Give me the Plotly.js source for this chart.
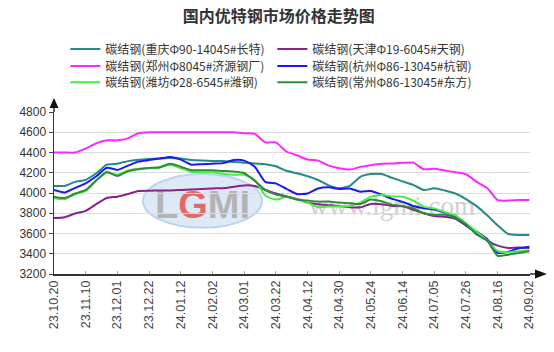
<!DOCTYPE html>
<html>
<head>
<meta charset="utf-8">
<script src="https://cdn.plot.ly/plotly-3.0.1.min.js"></script>
<style>html,body{margin:0;padding:0;background:#fff;}#chart{width:554px;height:352px;}</style>
</head>
<body>
<div id="chart"></div>
<script>
// Trading-day index of each sampled point (every 5 trading days)
const dayIndex = [0,5,10,15,20,25,30,35,40,45,50,55,60,65,70,75,80,85,90,95,100,105,110,115,120,125,130,135,140,145,150,155,160,165,170,175,180,185,190,195,200,205,210,215,220,225];

// Tick labels (every 15 trading days)
const tickIndex = [0,15,30,45,60,75,90,105,120,135,150,165,180,195,210,225];
const tickLabels = ["23.10.20","23.11.10","23.12.01","23.12.22","24.01.12","24.02.02","24.03.01","24.03.22","24.04.12","24.04.30","24.05.24","24.06.14","24.07.05","24.07.26","24.08.16","24.09.02"];

const seriesNames = [
  "碳结钢(重庆Φ90-14045#长特)",
  "碳结钢(天津Φ19-6045#天钢)",
  "碳结钢(郑州Φ8045#济源钢厂)",
  "碳结钢(杭州Φ86-13045#杭钢)",
  "碳结钢(潍坊Φ28-6545#潍钢)",
  "碳结钢(常州Φ86-13045#东方)"
];

const chongqing = [4070,4070,4110,4130,4195,4280,4290,4315,4328,4335,4340,4345,4340,4325,4320,4317,4315,4307,4300,4291,4285,4265,4220,4195,4165,4128,4075,4046,4070,4160,4187,4187,4150,4115,4080,4030,4046,4025,3995,3940,3870,3780,3680,3595,3585,3585];
const tianjin   = [3752,3760,3798,3823,3890,3950,3964,3990,4020,4023,4025,4025,4030,4035,4040,4045,4048,4062,4075,4070,4030,3995,3966,3940,3905,3888,3880,3872,3860,3859,3892,3889,3872,3868,3835,3800,3772,3766,3745,3680,3604,3530,3480,3457,3462,3457];
const zhengzhou = [4400,4400,4400,4440,4490,4520,4520,4540,4590,4600,4600,4600,4600,4600,4600,4600,4600,4600,4590,4585,4500,4500,4410,4373,4330,4320,4270,4245,4232,4258,4275,4288,4292,4298,4300,4235,4240,4222,4205,4185,4110,4050,3930,3925,3930,3930];
const hangzhou  = [4030,4005,4050,4095,4165,4250,4228,4270,4310,4325,4340,4356,4330,4280,4285,4290,4295,4325,4320,4260,4110,4095,4040,3990,3995,4045,4056,4040,4045,4013,4020,3985,3942,3912,3872,3850,3838,3805,3765,3680,3620,3545,3410,3420,3455,3470];
const weifang   = [3948,3938,3988,4020,4120,4210,4180,4222,4240,4245,4250,4280,4245,4210,4205,4205,4190,4180,4180,4130,3975,3935,3962,3935,3905,3860,3866,3868,3872,3905,3964,3980,3966,3964,3925,3866,3848,3810,3780,3700,3620,3530,3427,3414,3424,3434];
const changzhou = [3964,3950,3995,4030,4125,4205,4168,4215,4235,4248,4255,4288,4260,4225,4225,4225,4218,4212,4198,4120,4030,3985,3966,3935,3925,3915,3915,3905,3899,3892,3935,3918,3885,3872,3850,3800,3784,3784,3755,3690,3590,3530,3380,3391,3408,3424];

const seriesValues = [chongqing, tianjin, zhengzhou, hangzhou, weifang, changzhou];
const seriesColors = ["#248a8a","#8c1f8c","#ff26ff","#1a1aee","#44ee44","#2f8a3c"];
const legendRow = ["legend","legend","legend2","legend2","legend3","legend3"];

const traces = seriesValues.map((vals, i) => ({
  type: "scatter",
  mode: "lines",
  x: dayIndex,
  y: vals,
  name: seriesNames[i],
  legend: legendRow[i],
  line: {color: seriesColors[i], width: 2, shape: "spline", smoothing: 0.6},
  hoverinfo: "skip"
}));

function legendRowStyle(yPos) {
  return {
    orientation: "h",
    xref: "container", yref: "container",
    x: 0.118, xanchor: "left",
    y: yPos, yanchor: "middle",
    entrywidth: 162, entrywidthmode: "pixels",
    itemwidth: 30,
    font: {family: "'Noto Sans CJK SC', sans-serif", size: 12, color: "#333"},
    bgcolor: "rgba(0,0,0,0)",
    traceorder: "normal"
  };
}

const layout = {
  width: 554,
  height: 352,
  paper_bgcolor: "#ffffff",
  plot_bgcolor: "#ffffff",
  margin: {l: 54, r: 24, t: 112, b: 78, autoexpand: false},
  font: {family: "'Liberation Sans', Arial, 'Noto Sans CJK SC', sans-serif", color: "#333"},
  title: {
    text: "<b>国内优特钢市场价格走势图</b>",
    font: {family: "'Noto Sans CJK SC', sans-serif", size: 16, color: "#333"},
    x: 0.503, xanchor: "center", xref: "container",
    y: 0.952, yanchor: "middle", yref: "container"
  },
  showlegend: true,
  legend: legendRowStyle(0.861),
  legend2: legendRowStyle(0.8125),
  legend3: legendRowStyle(0.766),
  xaxis: {
    type: "linear",
    range: [0, 225.3],
    tickmode: "array",
    tickvals: tickIndex,
    ticktext: tickLabels,
    tickangle: -90,
    ticks: "inside",
    ticklen: 3,
    tickcolor: "#aaa",
    tickfont: {family: "'Liberation Sans', Arial, sans-serif", size: 12.5, color: "#444"},
    showgrid: false,
    zeroline: false,
    showline: true,
    linecolor: "#333",
    linewidth: 1.5,
    fixedrange: true
  },
  yaxis: {
    range: [3200, 4800],
    tickmode: "linear",
    tick0: 3200,
    dtick: 200,
    ticks: "outside",
    ticklen: 4,
    tickcolor: "#444",
    tickfont: {family: "'Liberation Sans', Arial, sans-serif", size: 12, color: "#333"},
    showgrid: true,
    gridcolor: "#dcdcdc",
    gridwidth: 1,
    zeroline: false,
    showline: true,
    linecolor: "#333",
    linewidth: 1.5,
    fixedrange: true
  },
  shapes: [
    {type: "circle", xref: "paper", yref: "paper", x0: 0.187, x1: 0.437, y0: 0.285, y1: 0.617,
     fillcolor: "#dde9f6", line: {color: "#bcd3ec", width: 2}, layer: "below",
     label: {text: "<b>L<span style='fill:#e46a6a'>G</span>MI</b>", font: {family: "'Liberation Sans', Arial, sans-serif", size: 38, color: "#b4b4b4"}, textposition: "middle center"}},
    {type: "rect", xref: "paper", yref: "paper", x0: 0.55, x1: 0.87, y0: 0.33, y1: 0.55,
     line: {width: 0}, fillcolor: "rgba(0,0,0,0)", layer: "below",
     label: {text: "www.lgmi.com", font: {family: "'Liberation Serif', serif", size: 27, color: "#cfcfcf"}, textposition: "middle center"}},
    {type: "line", xref: "paper", yref: "paper", x0: 0, x1: 0, y0: 1, y1: 1.03, line: {color: "#333", width: 1.5}},
    {type: "path", xref: "paper", yref: "paper", xsizemode: "pixel", ysizemode: "pixel", xanchor: 0, yanchor: 1,
     path: "M -4.5 4 L 4.5 4 L 0 14 Z", fillcolor: "#111", line: {width: 0}},
    {type: "line", xref: "paper", yref: "paper", x0: 1, x1: 1.013, y0: 0, y1: 0, line: {color: "#333", width: 1.5}},
    {type: "path", xref: "paper", yref: "paper", xsizemode: "pixel", ysizemode: "pixel", xanchor: 1, yanchor: 0,
     path: "M 5 -4.5 L 5 4.5 L 17 0 Z", fillcolor: "#111", line: {width: 0}}
  ]
};

Plotly.newPlot("chart", traces, layout, {displayModeBar: false, staticPlot: true});
</script>
</body>
</html>
